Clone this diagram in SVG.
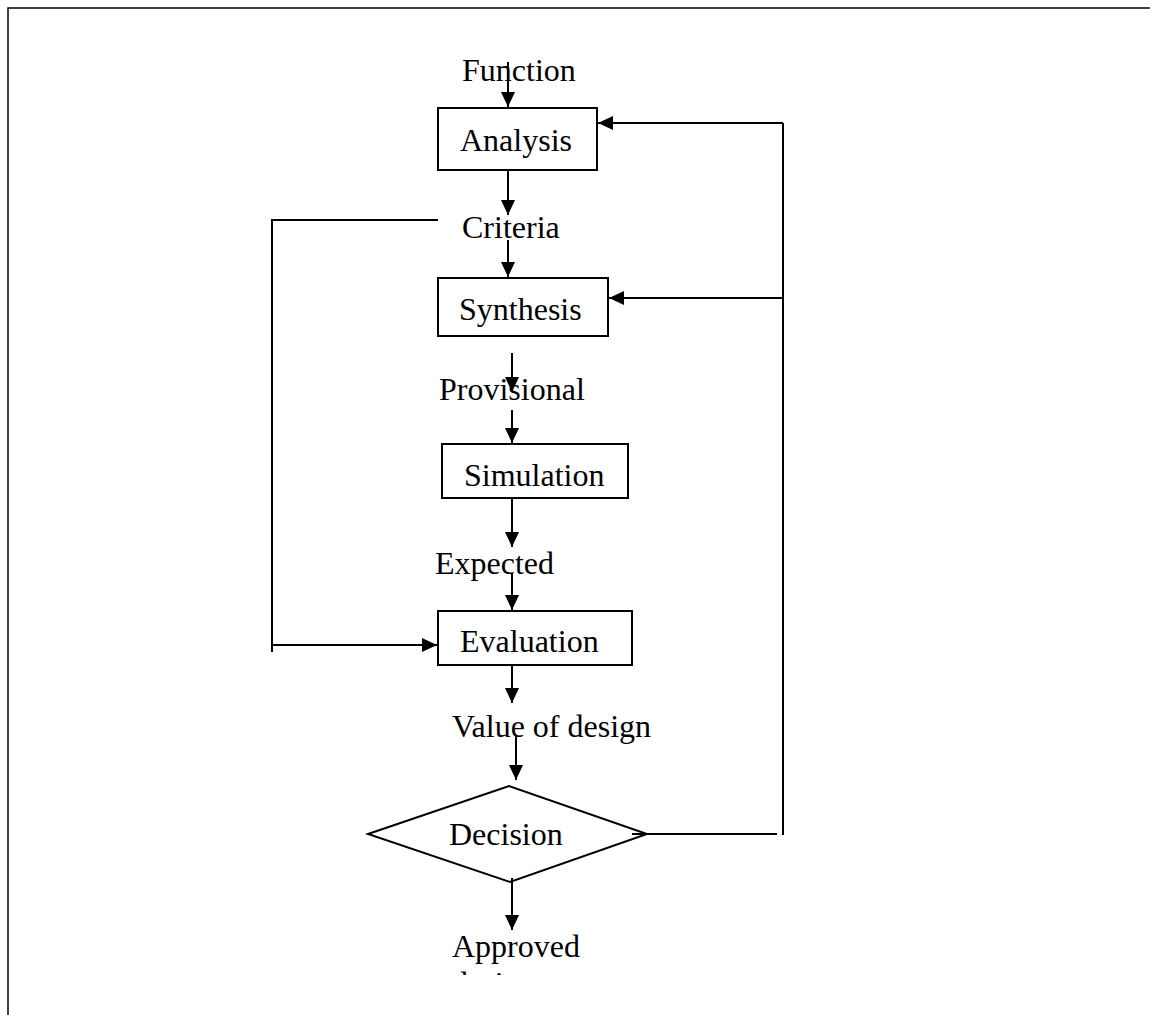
<svg xmlns="http://www.w3.org/2000/svg" width="1150" height="1015" viewBox="0 0 1150 1015">
<style>
.t{font-family:"Liberation Serif","Times New Roman",serif;font-size:32px;fill:#000}
.b{fill:#fff;stroke:#000;stroke-width:2}
.c{fill:none;stroke:#000;stroke-width:2}
</style>
<defs>
<marker id="ah" markerUnits="userSpaceOnUse" markerWidth="16" markerHeight="14" refX="15" refY="7" orient="auto">
<path d="M0,0 L15,7 L0,14 Z" fill="#000"/>
</marker>
<clipPath id="clipA"><rect x="0" y="0" width="1150" height="975"/></clipPath>
</defs>
<rect width="1150" height="1015" fill="#fff"/>
<path d="M8,1015 V8 H1150" fill="none" stroke="#000" stroke-width="1.5"/>
<g id="nodes">
<g id="analysis"><rect class="b" x="438" y="108" width="159" height="62"/><text class="t" x="460" y="151">Analysis</text></g>
<g id="synthesis"><rect class="b" x="438" y="278" width="170" height="58"/><text class="t" x="459" y="320">Synthesis</text></g>
<g id="simulation"><rect class="b" x="442" y="444" width="186" height="54"/><text class="t" x="464" y="486">Simulation</text></g>
<g id="evaluation"><rect class="b" x="438" y="611" width="194" height="54"/><text class="t" x="460" y="652">Evaluation</text></g>
<g id="decision"><polygon class="b" points="368,834 509,786 647,834 510,882"/><text class="t" x="449" y="845">Decision</text></g>
<g id="function"><text class="t" x="462" y="81">Function</text></g>
<g id="criteria"><text class="t" x="462" y="238">Criteria</text></g>
<g id="provisional"><text class="t" x="439" y="400">Provisional</text></g>
<g id="expected"><text class="t" x="435" y="574">Expected</text></g>
<g id="value"><text class="t" x="452" y="737">Value of design</text></g>
<g id="approved" clip-path="url(#clipA)"><text class="t" x="452" y="957">Approved</text><text class="t" x="452" y="994">design</text></g>
</g>
<g id="connectors">
<line class="c" x1="508" y1="62" x2="508" y2="107" marker-end="url(#ah)"/>
<line class="c" x1="508" y1="170" x2="508" y2="215" marker-end="url(#ah)"/>
<line class="c" x1="508" y1="240" x2="508" y2="277" marker-end="url(#ah)"/>
<line class="c" x1="512" y1="353" x2="512" y2="392" marker-end="url(#ah)"/>
<line class="c" x1="512" y1="410" x2="512" y2="443" marker-end="url(#ah)"/>
<line class="c" x1="512" y1="498" x2="512" y2="547" marker-end="url(#ah)"/>
<line class="c" x1="512" y1="573" x2="512" y2="610" marker-end="url(#ah)"/>
<line class="c" x1="512" y1="665" x2="512" y2="703" marker-end="url(#ah)"/>
<line class="c" x1="516" y1="735" x2="516" y2="780" marker-end="url(#ah)"/>
<line class="c" x1="512" y1="878" x2="512" y2="930" marker-end="url(#ah)"/>
<polyline class="c" points="438,220 272,220 272,652"/>
<line class="c" x1="272" y1="645" x2="437" y2="645" marker-end="url(#ah)"/>
<line class="c" x1="632" y1="834" x2="777" y2="834"/>
<line class="c" x1="783" y1="835" x2="783" y2="123"/>
<line class="c" x1="783" y1="123" x2="598" y2="123" marker-end="url(#ah)"/>
<line class="c" x1="783" y1="298" x2="609" y2="298" marker-end="url(#ah)"/>
</g>
</svg>
